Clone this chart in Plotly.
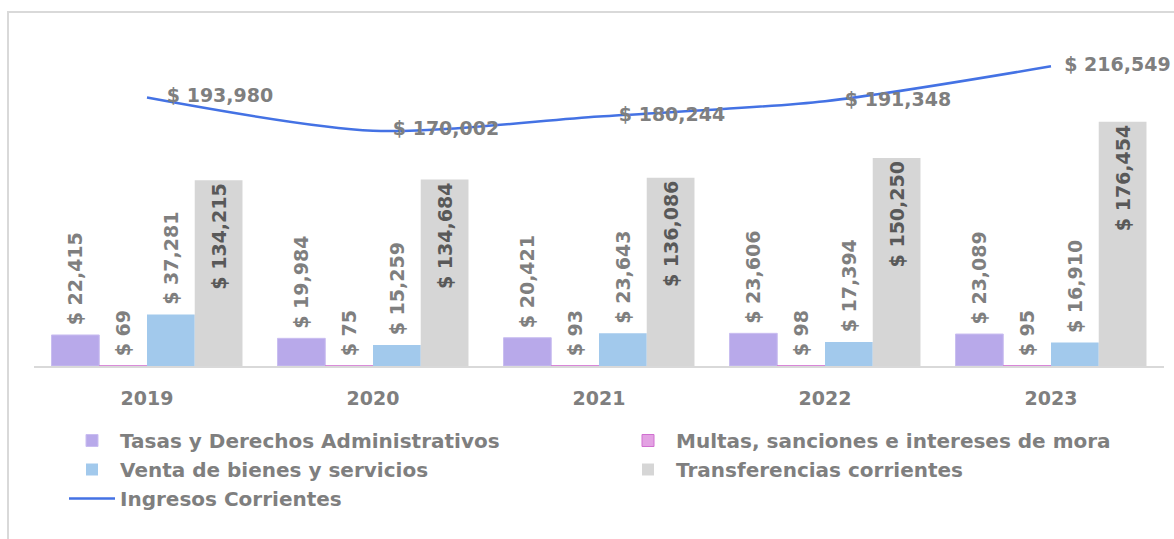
import plotly.graph_objects as go

years = ["2019", "2020", "2021", "2022", "2023"]
tasas = [22415, 19984, 20421, 23606, 23089]
multas = [69, 75, 93, 98, 95]
venta = [37281, 15259, 23643, 17394, 16910]
transfer = [134215, 134684, 136086, 150250, 176454]
ingresos = [193980, 170002, 180244, 191348, 216549]

names = ["Tasas y Derechos Administrativos", "Multas, sanciones e intereses de mora",
         "Venta de bienes y servicios", "Transferencias corrientes", "Ingresos Corrientes"]

FONT = "DejaVu Sans"
GRAY = "#7f7f7f"

def fmt(v):
    return "$ {:,}".format(v)

def out_font():
    return dict(family=FONT, size=19, color=GRAY, weight="bold")

fig = go.Figure()
fig.add_trace(go.Bar(x=years, y=tasas, name=names[0],
                     marker=dict(color="#b8a9ea", line=dict(color="#c9bdf0", width=1)),
                     text=[" " + fmt(v) for v in tasas], textposition="outside", textangle=-90,
                     constraintext="none", textfont=out_font(), cliponaxis=False))
fig.add_trace(go.Bar(x=years, y=multas, name=names[1],
                     marker=dict(color="#e3a2e3", line=dict(color="#d070d0", width=1)),
                     text=[" " + fmt(v) for v in multas], textposition="outside", textangle=-90,
                     constraintext="none", textfont=out_font(), cliponaxis=False))
fig.add_trace(go.Bar(x=years, y=venta, name=names[2],
                     marker=dict(color="#a2c9ec", line=dict(width=0)),
                     text=[" " + fmt(v) for v in venta], textposition="outside", textangle=-90,
                     constraintext="none", textfont=out_font(), cliponaxis=False))
fig.add_trace(go.Bar(x=years, y=transfer, name=names[3],
                     marker=dict(color="#d6d6d6", line=dict(width=0)),
                     text=[fmt(v) for v in transfer], textposition="inside", insidetextanchor="end",
                     textangle=-90, constraintext="none",
                     textfont=dict(family=FONT, size=19, color="#595959", weight="bold"),
                     cliponaxis=False))
pads = ["   ", "   ", "   ", "   ", "  "]
fig.add_trace(go.Scatter(x=years, y=ingresos, name=names[4], mode="lines+text",
                         line=dict(color="#4472e4", width=2.5, shape="spline", smoothing=0.8),
                         text=[p + fmt(v) for p, v in zip(pads, ingresos)],
                         textposition="middle right",
                         textfont=dict(family=FONT, size=19, color=GRAY, weight="bold"),
                         cliponaxis=False))

fig.update_layout(
    width=1174, height=539,
    margin=dict(l=34, r=10, t=20, b=173, autoexpand=False),
    paper_bgcolor="white", plot_bgcolor="white",
    barmode="group", bargap=0.155, bargroupgap=0,
    font=dict(family=FONT, color=GRAY),
    showlegend=True,
    legend=dict(orientation="h", xref="container", yref="container",
                x=64 / 1174, y=1 - 421 / 539, xanchor="left", yanchor="top",
                entrywidth=495, entrywidthmode="pixels", itemwidth=46,
                bgcolor="rgba(0,0,0,0)",
                font=dict(family=FONT, size=20, color=GRAY, weight="bold"),
                tracegroupgap=0, traceorder="normal"),
    xaxis=dict(type="category", showline=True, linecolor="#d9d9d9", linewidth=2,
               showgrid=False, ticks="", ticklabelstandoff=14,
               tickfont=dict(family=FONT, size=19, color=GRAY, weight="bold")),
    yaxis=dict(range=[0, 250000], visible=False, showgrid=False, zeroline=False),
)

fig.add_shape(type="rect", xref="paper", yref="paper",
              x0=(8 - 34) / 1130, x1=1.05, y0=-0.6, y1=1 + (20 - 12) / 346,
              line=dict(color="#d9d9d9", width=2), fillcolor="rgba(0,0,0,0)", layer="below")

fig.write_html("out.html", config={"displayModeBar": False},
               post_script="document.body.style.margin='0';")
